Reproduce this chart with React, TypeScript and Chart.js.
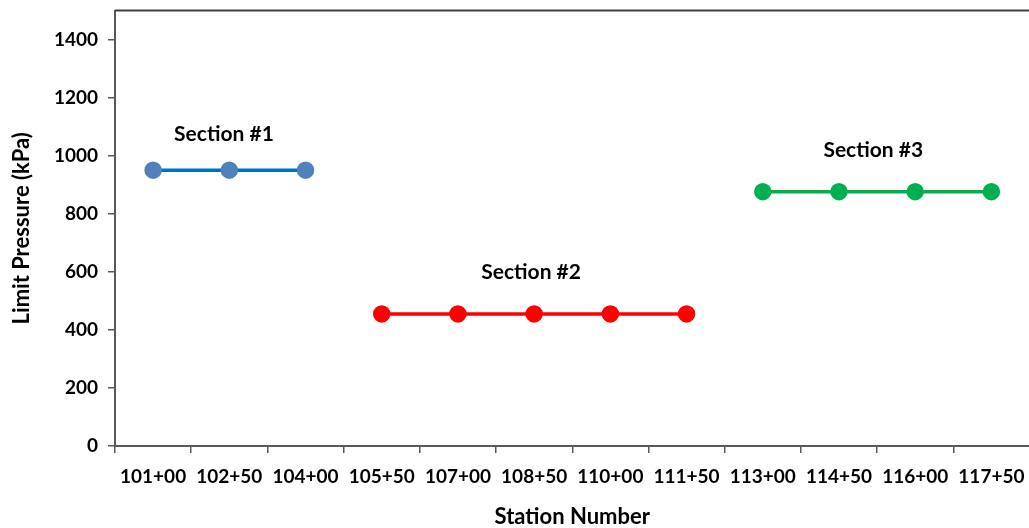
import React, { useEffect, useRef } from "react";
import { Chart, registerables } from "chart.js";

Chart.register(...registerables);

const stations = [
  "101+00", "102+50", "104+00", "105+50", "107+00", "108+50",
  "110+00", "111+50", "113+00", "114+50", "116+00", "117+50",
];

const section1 = [950, 950, 950, null, null, null, null, null, null, null, null, null];
const section2 = [null, null, null, 455, 455, 455, 455, 455, null, null, null, null];
const section3 = [null, null, null, null, null, null, null, null, 876, 876, 876, 876];

// Section captions: text, category position (fractional index), value height
const captionText = ["Section #1", "Section #2", "Section #3"];
const captionIndex = [0.93, 4.96, 9.45];
const captionValue = [1074, 600, 1019];

const FONT = "Lato, 'Open Sans', sans-serif";

const frameAndCaptions = {
  id: "frameAndCaptions",
  afterDraw(chart: any) {
    const { ctx, chartArea, scales } = chart;
    ctx.save();
    // top border of the plot area
    ctx.strokeStyle = "#404040";
    ctx.lineWidth = 2;
    ctx.beginPath();
    ctx.moveTo(chartArea.left, chartArea.top);
    ctx.lineTo(chartArea.right, chartArea.top);
    ctx.stroke();
    // section captions
    ctx.fillStyle = "#000";
    ctx.font = `bold 21px ${FONT}`;
    ctx.textAlign = "center";
    ctx.textBaseline = "middle";
    const x0 = scales.x.getPixelForValue(0);
    const x1 = scales.x.getPixelForValue(1);
    for (let i = 0; i < captionText.length; i++) {
      const x = x0 + (x1 - x0) * captionIndex[i];
      const y = scales.y.getPixelForValue(captionValue[i]);
      ctx.fillText(captionText[i], x, y);
    }
    ctx.restore();
  },
};

export default function App() {
  const ref = useRef<HTMLCanvasElement | null>(null);

  useEffect(() => {
    if (!ref.current) return;
    const chart = new Chart(ref.current, {
      type: "line",
      data: {
        labels: stations,
        datasets: [
          {
            label: "Section #1",
            data: section1,
            borderColor: "#0070C0",
            backgroundColor: "#4F81BD",
            pointBackgroundColor: "#4F81BD",
            pointBorderColor: "#4F81BD",
            borderWidth: 3.5,
            pointRadius: 7,
          },
          {
            label: "Section #2",
            data: section2,
            borderColor: "#FF0000",
            backgroundColor: "#FF0000",
            pointBackgroundColor: "#FF0000",
            pointBorderColor: "#FF0000",
            borderWidth: 3.5,
            pointRadius: 7,
          },
          {
            label: "Section #3",
            data: section3,
            borderColor: "#00B050",
            backgroundColor: "#00B050",
            pointBackgroundColor: "#00B050",
            pointBorderColor: "#00B050",
            borderWidth: 3.5,
            pointRadius: 7,
          },
        ],
      },
      options: {
        responsive: false,
        animation: false,
        layout: { padding: { top: 9, right: 3, left: 0, bottom: 0 } },
        plugins: {
          legend: { display: false },
          tooltip: { enabled: false },
        },
        scales: {
          x: {
            type: "category",
            offset: true,
            afterFit(scale: any) {
              scale.height = 82;
              scale.paddingLeft = 0;
              scale.paddingRight = 0;
            },
            grid: {
              offset: true,
              drawOnChartArea: false,
              drawTicks: true,
              tickLength: 7,
              color: "#595959",
              lineWidth: 1.5,
            },
            border: { color: "#595959", width: 2 },
            ticks: {
              color: "#000",
              font: { family: FONT, size: 19, weight: "bold" },
              padding: 12,
              maxRotation: 0,
              autoSkip: false,
            },
            title: {
              display: true,
              text: "Station Number",
              color: "#000",
              font: { family: FONT, size: 22, weight: "bold", lineHeight: 1 },
              padding: { top: 0, bottom: 0 },
            },
          },
          y: {
            min: 0,
            max: 1500,
            afterFit(scale: any) {
              scale.width = 115;
              scale.paddingTop = 0;
              scale.paddingBottom = 0;
            },
            afterBuildTicks(scale: any) {
              scale.ticks = scale.ticks.filter((t: any) => t.value <= 1400);
            },
            grid: {
              drawOnChartArea: false,
              drawTicks: true,
              tickLength: 7,
              color: "#595959",
              lineWidth: 1.5,
            },
            border: { color: "#595959", width: 2 },
            ticks: {
              stepSize: 200,
              color: "#000",
              font: { family: FONT, size: 19, weight: "bold" },
              padding: 10,
              callback: (v: any) => String(v),
            },
            title: {
              display: true,
              text: "Limit Pressure (kPa)",
              color: "#000",
              font: { family: FONT, size: 22, weight: "bold", lineHeight: 1 },
              padding: { top: 11, bottom: 0 },
            },
          },
        },
      },
      plugins: [frameAndCaptions],
    });
    return () => chart.destroy();
  }, []);

  return (
    <div
      style={{
        position: "fixed",
        left: 0,
        top: 0,
        width: 1029,
        height: 528,
        overflow: "hidden",
        background: "#fff",
      }}
    >
      <canvas ref={ref} width={1040} height={528} style={{ display: "block" }} />
    </div>
  );
}
